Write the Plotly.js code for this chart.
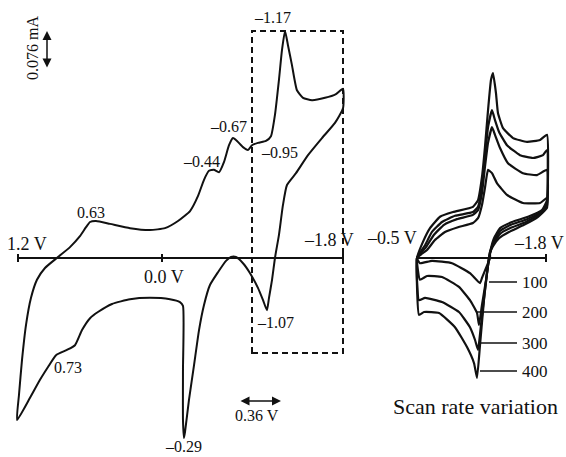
<!DOCTYPE html>
<html>
<head>
<meta charset="utf-8">
<script src="https://cdn.plot.ly/plotly-3.0.1.min.js"></script>
<style>
  html, body { margin: 0; padding: 0; background: #fff; }
  #chart { width: 566px; height: 457px; }
</style>
</head>
<body>
<div id="chart"></div>
<script>
// main voltammogram, potential (V) and current (mA)
const mainV = [1.209, 1.191, 1.163, 1.126, 1.080, 1.025, 0.951, 0.831, 0.720, 0.628,
  0.572, 0.535, 0.480, 0.351, 0.166, -0.018, -0.157, -0.277, -0.388, -0.462,
  -0.517, -0.563, -0.609, -0.655, -0.702, -0.748, -0.785, -0.822, -0.877, -0.923,
  -0.960, -1.015, -1.089, -1.135, -1.172, -1.209, -1.237, -1.265, -1.292, -1.329,
  -1.375, -1.431, -1.514, -1.634, -1.735, -1.800, -1.800, -1.726, -1.606, -1.477,
  -1.366, -1.283, -1.246, -1.209, -1.172, -1.145, -1.117, -1.098, -1.062, -1.015,
  -0.942, -0.877, -0.812, -0.766, -0.720, -0.646, -0.572, -0.517, -0.471, -0.425,
  -0.378, -0.342, -0.332, -0.323, -0.323, -0.323, -0.295, -0.203, -0.018, 0.166,
  0.332, 0.462, 0.535, 0.609, 0.674, 0.748, 0.849, 0.923, 0.997, 1.089, 1.209];
const mainI = [-0.342, -0.289, -0.215, -0.141, -0.084, -0.046, -0.021, 0.002, 0.023, 0.046,
  0.065, 0.076, 0.078, 0.072, 0.063, 0.059, 0.063, 0.078, 0.099, 0.131,
  0.165, 0.184, 0.186, 0.181, 0.203, 0.238, 0.253, 0.247, 0.234, 0.228,
  0.238, 0.243, 0.247, 0.257, 0.302, 0.376, 0.439, 0.479, 0.449, 0.407,
  0.354, 0.338, 0.333, 0.338, 0.346, 0.357, 0.316, 0.285, 0.253, 0.217,
  0.179, 0.154, 0.112, 0.049, 0.000, -0.046, -0.084, -0.110, -0.089, -0.063,
  -0.032, -0.011, 0.002, 0.002, -0.006, -0.030, -0.057, -0.099, -0.152, -0.226,
  -0.300, -0.367, -0.380, -0.342, -0.236, -0.101, -0.093, -0.087, -0.084, -0.087,
  -0.097, -0.114, -0.127, -0.152, -0.184, -0.194, -0.205, -0.230, -0.257, -0.295, -0.342];

// scan rate loops (inset)
const loop100V = [-0.500, -0.601, -0.681, -0.782, -0.913, -1.064, -1.115, -1.155, -1.185, -1.216,
  -1.256, -1.306, -1.407, -1.568, -1.740, -1.810, -1.810, -1.720, -1.579, -1.427,
  -1.327, -1.266, -1.236, -1.236, -1.196, -1.155, -1.135, -1.034, -0.853, -0.651, -0.530, -0.500];
const loop100I = [0, 0.017, 0.038, 0.055, 0.065, 0.074, 0.084, 0.112, 0.148, 0.186,
  0.179, 0.158, 0.133, 0.116, 0.116, 0.127, 0.106, 0.087, 0.070, 0.055,
  0.042, 0.025, 0.011, 0, -0.021, -0.042, -0.053, -0.032, -0.011, -0.006, -0.011, 0];
const loop200V = [-0.500, -0.591, -0.671, -0.772, -0.903, -1.064, -1.115, -1.155, -1.185, -1.216,
  -1.256, -1.286, -1.337, -1.417, -1.568, -1.710, -1.810, -1.810, -1.740, -1.599,
  -1.437, -1.337, -1.276, -1.236, -1.226, -1.196, -1.155, -1.125, -1.105, -1.034,
  -0.923, -0.752, -0.601, -0.530, -0.500];
const loop200I = [0, 0.023, 0.049, 0.070, 0.082, 0.091, 0.101, 0.137, 0.192, 0.243,
  0.276, 0.260, 0.232, 0.200, 0.179, 0.175, 0.186, 0.110, 0.093, 0.076,
  0.063, 0.051, 0.032, 0.013, 0, -0.046, -0.099, -0.141, -0.116, -0.089,
  -0.061, -0.040, -0.038, -0.046, 0];
const loop300V = [-0.500, -0.581, -0.651, -0.752, -0.883, -1.064, -1.115, -1.155, -1.185, -1.216,
  -1.256, -1.286, -1.327, -1.407, -1.538, -1.669, -1.770, -1.810, -1.810, -1.750,
  -1.609, -1.447, -1.337, -1.276, -1.246, -1.226, -1.185, -1.145, -1.115, -1.085,
  -1.034, -0.923, -0.752, -0.581, -0.520, -0.500];
const loop300I = [0, 0.027, 0.055, 0.076, 0.089, 0.097, 0.108, 0.150, 0.213, 0.276,
  0.312, 0.291, 0.266, 0.238, 0.217, 0.211, 0.217, 0.228, 0.116, 0.097,
  0.082, 0.070, 0.057, 0.038, 0.017, 0, -0.068, -0.141, -0.194, -0.173,
  -0.146, -0.114, -0.093, -0.084, -0.089, 0];
const loop400V = [-0.500, -0.560, -0.631, -0.732, -0.863, -1.064, -1.115, -1.155, -1.185, -1.216,
  -1.246, -1.266, -1.296, -1.316, -1.367, -1.468, -1.609, -1.740, -1.810, -1.810,
  -1.760, -1.619, -1.458, -1.337, -1.276, -1.246, -1.226, -1.175, -1.135, -1.105,
  -1.075, -1.004, -0.883, -0.722, -0.571, -0.520, -0.500];
const loop400I = [0, 0.034, 0.063, 0.087, 0.097, 0.108, 0.122, 0.171, 0.234, 0.312,
  0.376, 0.390, 0.348, 0.306, 0.274, 0.253, 0.245, 0.249, 0.260, 0.122,
  0.101, 0.087, 0.076, 0.063, 0.042, 0.021, 0, -0.089, -0.184, -0.253,
  -0.222, -0.188, -0.146, -0.116, -0.114, -0.120, 0];

const peakLabels = ['0.63', '–0.44', '–0.67', '–1.17', '–0.95', '–1.07', '0.73', '–0.29'];
const axisLabels = ['1.2 V', '0.0 V', '–1.8 V'];
const insetAxisLabels = ['–0.5 V', '–1.8 V'];
const scanRates = ['100', '200', '300', '400'];
const scaleLabels = ['0.076 mA', '0.36 V'];
const insetTitle = 'Scan rate variation';

// pixel -> paper helpers
const W = 566, H = 457;
const px = v => v / W;
const py = v => 1 - v / H;

const serif = 'Liberation Serif, Times New Roman, serif';
const black = '#111';

const lineStyle = { color: black, width: 2, shape: 'spline', smoothing: 0.5 };

const traces = [
  { x: mainV, y: mainI, mode: 'lines', line: lineStyle, xaxis: 'x', yaxis: 'y', hoverinfo: 'skip' }
];
const loops = [[loop100V, loop100I], [loop200V, loop200I], [loop300V, loop300I], [loop400V, loop400I]];
loops.forEach(function(l) {
  traces.push({ x: l[0], y: l[1], mode: 'lines', line: { color: black, width: 2.2, shape: 'spline', smoothing: 0.4 },
    xaxis: 'x2', yaxis: 'y2', hoverinfo: 'skip' });
});

function txt(s, x, y, size, extra) {
  return Object.assign({ text: s, x: px(x), y: py(y), xref: 'paper', yref: 'paper', showarrow: false,
    xanchor: 'center', yanchor: 'middle', font: { family: serif, size: size, color: black } }, extra || {});
}

const annotations = [];
const peakPos = [[91, 212], [201, 161], [228, 126], [272, 18], [279, 152], [275, 322], [68, 367], [183, 446]];
peakLabels.forEach(function(s, i) { annotations.push(txt(s, peakPos[i][0], peakPos[i][1], 16)); });
const axisPos = [[27, 244], [164, 277], [329, 240]];
axisLabels.forEach(function(s, i) { annotations.push(txt(s, axisPos[i][0], axisPos[i][1], 18)); });
const insetAxisPos = [[392, 238], [539, 243]];
insetAxisLabels.forEach(function(s, i) { annotations.push(txt(s, insetAxisPos[i][0], insetAxisPos[i][1], 18)); });
const ratePos = [282, 312, 343, 371];
scanRates.forEach(function(s, i) { annotations.push(txt(s, 535, ratePos[i], 17)); });
annotations.push(txt(scaleLabels[0], 33, 48, 16, { textangle: -90 }));
annotations.push(txt(scaleLabels[1], 257, 415, 16));
annotations.push(txt(insetTitle, 475, 406, 22));

// scale arrows
annotations.push({ text: '', x: px(47), y: py(31), xref: 'paper', yref: 'paper', showarrow: true,
  ax: 0, ay: 38, arrowside: 'end+start', arrowhead: 2, startarrowhead: 2, arrowsize: 1.2, startarrowsize: 1.2,
  arrowwidth: 1.5, arrowcolor: black, standoff: 0, startstandoff: 0 });
annotations.push({ text: '', x: px(281), y: py(401), xref: 'paper', yref: 'paper', showarrow: true,
  ax: -42, ay: 0, arrowside: 'end+start', arrowhead: 2, startarrowhead: 2, arrowsize: 1.2, startarrowsize: 1.2,
  arrowwidth: 1.5, arrowcolor: black, standoff: 0, startstandoff: 0 });

function seg(x0, y0, x1, y1, w, dash) {
  return { type: 'line', xref: 'paper', yref: 'paper', x0: px(x0), y0: py(y0), x1: px(x1), y1: py(y1),
    line: { color: black, width: w || 2, dash: dash || 'solid' } };
}

const shapes = [
  seg(18, 258, 343, 258, 2.2),
  seg(18, 254, 18, 262, 2), seg(162, 254, 162, 262, 2), seg(343, 254, 343, 262, 2),
  seg(417, 258, 546, 258, 2.2),
  seg(546, 254, 546, 262, 2),
  seg(489, 282, 517, 282, 1.5), seg(476, 312, 517, 312, 1.5),
  seg(479, 343, 517, 343, 1.5), seg(480, 371, 517, 371, 1.5),
  { type: 'rect', xref: 'paper', yref: 'paper', x0: px(252), y0: py(353), x1: px(343), y1: py(31),
    line: { color: black, width: 2, dash: '6px,4px' } }
];

const hidden = { visible: false, showgrid: false, zeroline: false, fixedrange: true };

const layout = {
  width: W, height: H,
  margin: { l: 0, r: 0, t: 0, b: 0 },
  paper_bgcolor: '#fff', plot_bgcolor: 'rgba(0,0,0,0)',
  showlegend: false,
  xaxis: Object.assign({ domain: [px(8), px(352)], range: [1.2923, -1.8832], anchor: 'y' }, hidden),
  yaxis: Object.assign({ domain: [py(450), py(10)], range: [-0.4051, 0.5233], anchor: 'x' }, hidden),
  xaxis2: Object.assign({ domain: [px(405), px(560)], range: [-0.379, -1.9414], anchor: 'y2' }, hidden),
  yaxis2: Object.assign({ domain: [py(450), py(10)], range: [-0.4051, 0.5233], anchor: 'x2' }, hidden),
  annotations: annotations,
  shapes: shapes
};

Plotly.newPlot('chart', traces, layout, { displayModeBar: false, staticPlot: true });
</script>
</body>
</html>
